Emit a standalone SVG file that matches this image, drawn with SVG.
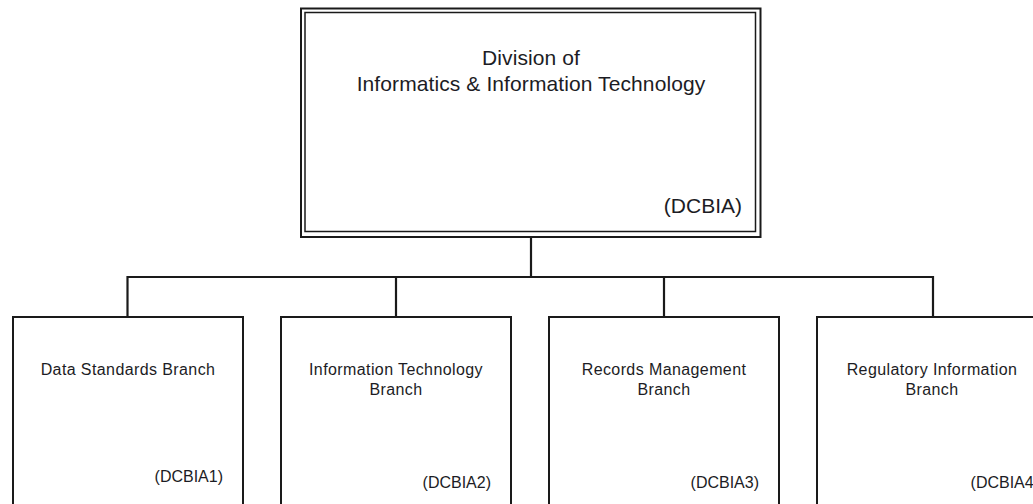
<svg xmlns="http://www.w3.org/2000/svg" width="1033" height="504" viewBox="0 0 1033 504">
  <style>
    .box { fill: #ffffff; stroke: #1a1a1a; stroke-width: 2; }
    .inner { fill: none; stroke: #1a1a1a; stroke-width: 1.5; }
    .conn { fill: none; stroke: #1a1a1a; stroke-width: 2.2; }
    text { font-family: "Liberation Sans", Arial, sans-serif; fill: #1c1c24; }
    .title { font-size: 21px; letter-spacing: 0.1px; text-anchor: middle; }
    .code-lg { font-size: 21px; text-anchor: end; }
    .label { font-size: 16px; letter-spacing: 0.4px; text-anchor: middle; }
    .code { font-size: 16px; text-anchor: end; }
  </style>
  <rect width="1033" height="504" fill="#ffffff"/>

  <!-- division: double-ruled frame -->
  <g id="division">
    <rect class="box" x="301" y="8.5" width="459.5" height="228.5" stroke-width="2.5"/>
    <rect class="inner" x="305" y="12.5" width="450.5" height="219"/>
    <text class="title" x="531" y="65">Division of</text>
    <text class="title" x="531" y="91">Informatics &amp; Information Technology</text>
    <text class="code-lg" x="742" y="213">(DCBIA)</text>
  </g>

  <!-- tree connectors -->
  <g id="connectors">
    <path class="conn" d="M531 238 V277"/>
    <path class="conn" d="M127.5 316 V277 H933 V316"/>
    <path class="conn" d="M396 277 V316"/>
    <path class="conn" d="M664 277 V316"/>
  </g>

  <g id="branch-data-standards">
    <rect class="box" x="13" y="317" width="230" height="200"/>
    <text class="label" x="128" y="375">Data Standards Branch</text>
    <text class="code" x="223" y="482">(DCBIA1)</text>
  </g>

  <g id="branch-it">
    <rect class="box" x="281" y="317" width="230" height="200"/>
    <text class="label" x="396" y="375">Information Technology</text>
    <text class="label" x="396" y="395">Branch</text>
    <text class="code" x="491" y="488">(DCBIA2)</text>
  </g>

  <g id="branch-records">
    <rect class="box" x="549" y="317" width="230" height="200"/>
    <text class="label" x="664" y="375">Records Management</text>
    <text class="label" x="664" y="395">Branch</text>
    <text class="code" x="759" y="488">(DCBIA3)</text>
  </g>

  <g id="branch-regulatory">
    <rect class="box" x="817" y="317" width="240" height="200"/>
    <text class="label" x="932" y="375">Regulatory Information</text>
    <text class="label" x="932" y="395">Branch</text>
    <text class="code" x="1039" y="488">(DCBIA4)</text>
  </g>
</svg>
